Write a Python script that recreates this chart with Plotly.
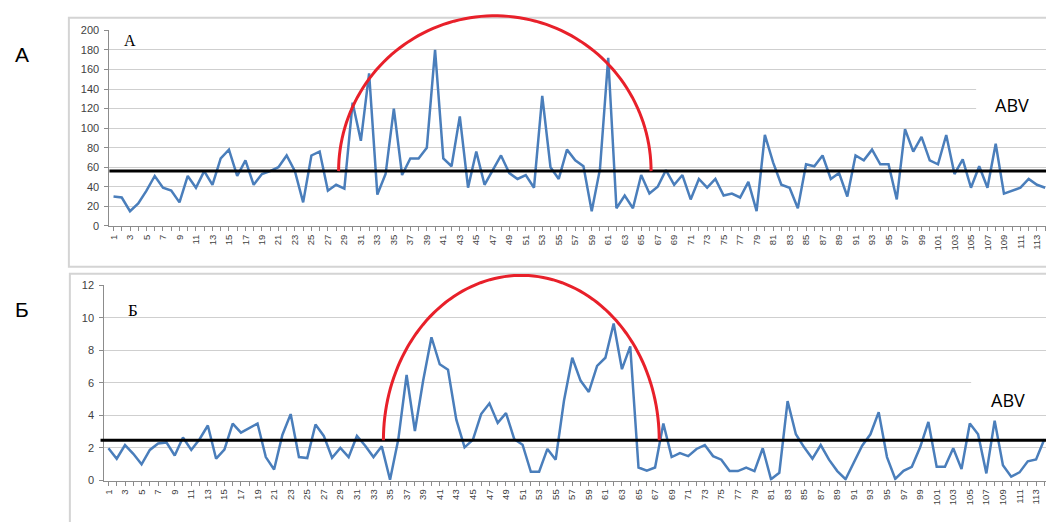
import numpy as np
import plotly.graph_objects as go

# ---- data -------------------------------------------------------------
samples = list(range(1, 115))
tick_labels = [str(n) if n % 2 == 1 else "" for n in samples]

values_a = [
    30, 29, 15, 23, 36, 51, 39, 36, 24, 51,
    39, 56, 42, 69, 78, 51, 67, 42, 53, 56,
    60, 72, 56, 24, 72, 76, 36, 42, 38, 126,
    87, 156, 32, 53, 120, 52, 69, 69, 80, 180,
    69, 61, 112, 39, 76, 42, 57, 72, 54, 48,
    52, 39, 133, 60, 48, 78, 67, 61, 15, 58,
    172, 18, 31, 18, 52, 33, 40, 57, 42, 52,
    27, 48, 39, 48, 31, 33, 29, 45, 15, 93,
    65, 42, 39, 18, 63, 61, 72, 48, 54, 30,
    72, 67, 78, 63, 63, 27, 99, 76, 91, 67,
    63, 93, 53, 68, 39, 61, 39, 84, 33, 36,
    39, 48, 42, 39,
]

values_b = [
    1.98, 1.34, 2.18, 1.64, 1.00, 1.88, 2.28, 2.34, 1.54, 2.64,
    1.88, 2.54, 3.38, 1.34, 1.90, 3.50, 2.94, 3.20, 3.50, 1.44,
    0.68, 2.80, 4.08, 1.44, 1.38, 3.44, 2.74, 1.40, 2.00, 1.44,
    2.74, 2.14, 1.44, 2.10, 0.05, 2.54, 6.48, 3.04, 6.14, 8.80,
    7.14, 6.80, 3.74, 2.04, 2.50, 4.08, 4.74, 3.54, 4.14, 2.54,
    2.20, 0.54, 0.54, 1.94, 1.28, 4.90, 7.54, 6.14, 5.44, 7.04,
    7.54, 9.64, 6.84, 8.24, 0.80, 0.60, 0.80, 3.50, 1.44, 1.68,
    1.50, 1.94, 2.18, 1.50, 1.28, 0.58, 0.58, 0.80, 0.58, 1.98,
    0.08, 0.48, 4.88, 2.84, 2.04, 1.34, 2.18, 1.28, 0.58, 0.08,
    1.14, 2.14, 2.84, 4.20, 1.44, 0.10, 0.60, 0.84, 2.04, 3.60,
    0.84, 0.84, 1.98, 0.70, 3.50, 2.84, 0.44, 3.68, 0.94, 0.24,
    0.50, 1.18, 1.30, 2.54,
]

abv_a = 56      # threshold level, panel А
abv_b = 2.48    # threshold level, panel Б

# highlighted run of samples (start, end, arc apex value)
arc_a = (28.3, 66.2, 215)
arc_b = (34.2, 67.5, 12.6)

# ---- layout geometry ---------------------------------------------------
W, H = 1046, 522

def px(x):
    return x / W

def py(y):
    return 1 - y / H

xr_a = [0.5, 114.1]
xr_b = [0.5, 114.2]
yr_a = [0, 200]
yr_b = [0, 12]

LINE_BLUE = "#4a7ebb"
GRID = "#cfcfcf"
AXIS = "#8c8c8c"
TICKFONT = dict(family="Liberation Sans", size=11, color="#3f3f3f")
XTICKFONT = dict(family="Liberation Sans", size=9.5, color="#3f3f3f")

fig = go.Figure()
fig.add_trace(go.Scatter(x=samples, y=values_a, mode="lines",
                         line=dict(color=LINE_BLUE, width=2.5),
                         xaxis="x", yaxis="y", showlegend=False,
                         hoverinfo="skip"))
fig.add_trace(go.Scatter(x=samples, y=values_b, mode="lines",
                         line=dict(color=LINE_BLUE, width=2.5),
                         xaxis="x2", yaxis="y2", showlegend=False,
                         hoverinfo="skip"))


def xaxis_cfg(domain, rng, anchor):
    return dict(domain=domain, range=rng, anchor=anchor,
                tickmode="array", tickvals=samples, ticktext=tick_labels,
                tickangle=-90, tickfont=XTICKFONT,
                ticks="outside", ticklen=4, tickwidth=1, tickcolor=AXIS,
                showline=True, linecolor=AXIS, linewidth=1,
                showgrid=False, zeroline=False, fixedrange=True)


def yaxis_cfg(domain, rng, dtick, anchor):
    return dict(domain=domain, range=rng, anchor=anchor, dtick=dtick,
                tickfont=TICKFONT, ticks="outside", ticklen=4,
                tickwidth=1, tickcolor=AXIS, ticklabelstandoff=3,
                showline=True, linecolor=AXIS, linewidth=1,
                showgrid=True, gridcolor=GRID, gridwidth=1.3,
                zeroline=False, fixedrange=True)


fig.update_layout(
    width=W, height=H,
    margin=dict(l=0, r=0, t=0, b=0),
    paper_bgcolor="white", plot_bgcolor="rgba(0,0,0,0)",
    xaxis=xaxis_cfg([px(107.6), 1], xr_a, "y"),
    yaxis=yaxis_cfg([py(225), py(25)], yr_a, 20, "x"),
    xaxis2=xaxis_cfg([px(102.5), 1], xr_b, "y2"),
    yaxis2=yaxis_cfg([py(485.7), py(285.7)], yr_b, 2, "x2"),
)

shapes = []

# chart frames
shapes.append(dict(type="rect", xref="paper", yref="paper",
                   x0=px(67), x1=px(1060), y0=py(267), y1=py(12),
                   line=dict(color="#d4d4d4", width=2), layer="below"))
shapes.append(dict(type="rect", xref="paper", yref="paper",
                   x0=px(68), x1=px(1060), y0=py(540), y1=py(274),
                   line=dict(color="#d4d4d4", width=2), layer="below"))

# legend boxes
shapes.append(dict(type="rect", xref="paper", yref="paper",
                   x0=px(976), x1=1, y0=py(118), y1=py(76),
                   fillcolor="white", line=dict(width=0), layer="above"))
shapes.append(dict(type="rect", xref="paper", yref="paper",
                   x0=px(971), x1=1, y0=py(416), y1=py(372),
                   fillcolor="white", line=dict(width=0), layer="above"))

# threshold lines
shapes.append(dict(type="line", xref="x domain", yref="y",
                   x0=0, x1=1, y0=abv_a, y1=abv_a,
                   line=dict(color="black", width=3)))
shapes.append(dict(type="line", xref="x2 domain", yref="y2",
                   x0=-0.004, x1=1, y0=abv_b, y1=abv_b,
                   line=dict(color="black", width=3)))


def arc_path(xr, yr, start, end, base, apex, n=90):
    cx = (start + end) / 2
    rx = (end - start) / 2
    ry = apex - base
    parts = []
    for i, t in enumerate(np.linspace(np.pi, 0, n)):
        x = cx + rx * np.cos(t)
        y = base + ry * np.sin(t)
        fx = (x - xr[0]) / (xr[1] - xr[0])
        fy = (y - yr[0]) / (yr[1] - yr[0])
        parts.append(("M" if i == 0 else "L") + f"{fx:.5f},{fy:.5f}")
    return " ".join(parts)


shapes.append(dict(type="path", xref="x domain", yref="y domain",
                   path=arc_path(xr_a, yr_a, arc_a[0], arc_a[1], abv_a, arc_a[2]),
                   line=dict(color="#e8202a", width=3)))
shapes.append(dict(type="path", xref="x2 domain", yref="y2 domain",
                   path=arc_path(xr_b, yr_b, arc_b[0], arc_b[1], abv_b, arc_b[2]),
                   line=dict(color="#e8202a", width=3)))

fig.update_layout(shapes=shapes)

annotations = [
    dict(text="А", x=px(20), y=py(50), font=dict(family="Liberation Sans", size=21, color="black")),
    dict(text="Б", x=px(20), y=py(311), font=dict(family="Liberation Sans", size=21, color="black")),
    dict(text="А", x=px(128.5), y=py(35), font=dict(family="Liberation Serif", size=16, color="black")),
    dict(text="Б", x=px(131), y=py(312), font=dict(family="Liberation Serif", size=17, color="black")),
    dict(text="ABV", x=px(1012), y=py(101), font=dict(family="Open Sans", size=18, color="black")),
    dict(text="ABV", x=px(1008), y=py(403), font=dict(family="Open Sans", size=18, color="black")),
]
for a in annotations:
    a.update(xref="paper", yref="paper", showarrow=False,
             xanchor="center", yanchor="middle")
fig.update_layout(annotations=annotations)

fig.write_html("out.html")
